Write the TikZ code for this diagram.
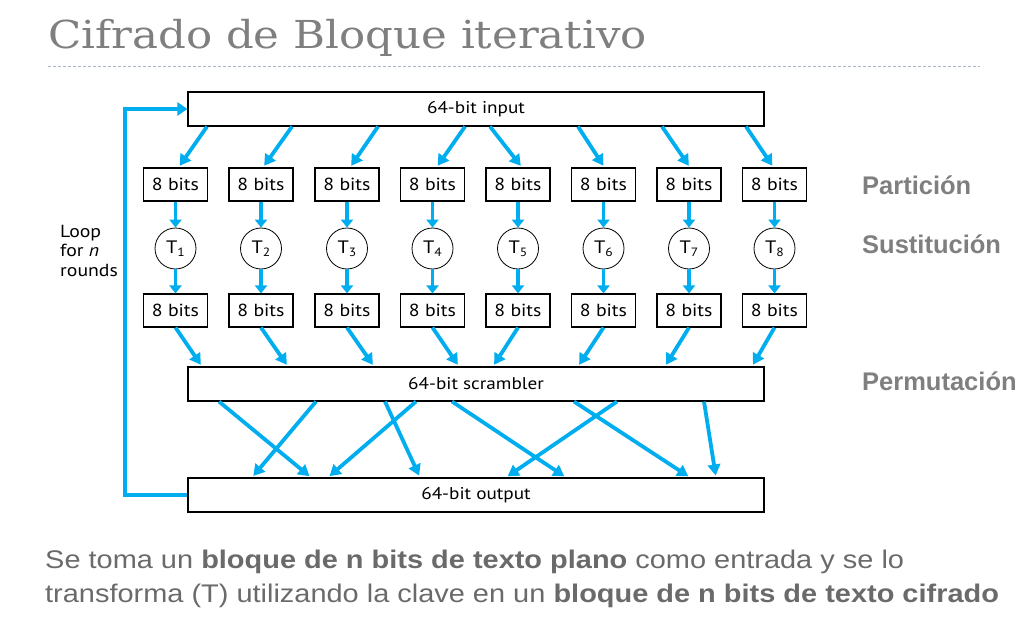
\documentclass[tikz,border=0pt]{standalone}
\usepackage{fontspec}
\usetikzlibrary{arrows.meta,calc}
\newfontfamily\diagfont[FakeStretch=1.13]{PT Sans}
\newfontfamily\arialfont{Liberation Sans}
\newfontfamily\bodyfont[FakeStretch=1.135]{Liberation Sans}
\newfontfamily\titlefont[FakeStretch=1.13]{DejaVu Serif}
\definecolor{arrowblue}{HTML}{00AEEF}
\definecolor{titlegray}{HTML}{7F7F7F}
\definecolor{textgray}{HTML}{6A6A6A}
\definecolor{dashgray}{HTML}{A8B8C8}
\tikzset{
  bigbox/.style={draw=black, line width=1.1pt, fill=white, minimum width=576pt, minimum height=34pt, inner sep=0pt, font=\diagfont\fontsize{17}{19}\selectfont},
  bitbox/.style={draw=black, line width=1.1pt, fill=white, minimum width=64pt, minimum height=33pt, inner sep=0pt, font=\diagfont\fontsize{17.5}{20}\selectfont},
  tcircle/.style={draw=black, line width=0.8pt, circle, minimum size=41pt, inner sep=0pt, font=\diagfont\fontsize{18}{20}\selectfont},
  barrow/.style={draw=arrowblue, line width=3.8pt, -{Triangle[length=11pt,width=12.5pt]}},
  looparrow/.style={draw=arrowblue, line width=4.5pt, -{Triangle[length=10pt,width=13pt]}},
  sidelabel/.style={anchor=base west, inner sep=0pt, text=titlegray, font=\arialfont\bfseries\fontsize{25.5}{28}\selectfont},
  bodytext/.style={anchor=base west, inner sep=0pt, text=textgray, font=\bodyfont\fontsize{25.5}{30}\selectfont},
}
\newcommand{\tsub}[1]{T\raisebox{-0.35ex}{\fontsize{12}{12}\selectfont #1}}
\begin{document}
\begin{tikzpicture}[x=1pt,y=-1pt]
\useasboundingbox (0,0) rectangle (1030,631);
% title
\node[anchor=base west, inner sep=0pt, text=titlegray, font=\titlefont\fontsize{38.5}{42}\selectfont] (title) at (48,49) {Cifrado de Bloque iterativo};
\draw[dashgray, line width=1pt, dash pattern=on 3pt off 2pt] (48,67) -- (980,67);
% big boxes
\node[bigbox] (in) at (476,109) {64-bit input};
\node[bigbox] (scr) at (476,384) {64-bit scrambler};
\node[bigbox] (out) at (476,495) {64-bit output};
% columns
\foreach \i/\x in {1/175.5,2/261,3/347,4/432.5,5/518,6/603.5,7/689,8/774.5}{
  \node[bitbox] (a\i) at (\x,184.5) {8 bits};
  \node[tcircle] (t\i) at (\x,248.5) {\tsub{\i}};
  \node[bitbox] (b\i) at (\x,310.5) {8 bits};
  \draw[barrow, -{Triangle[length=8pt,width=12pt]}] (a\i.south) -- (t\i.north);
  \draw[barrow, -{Triangle[length=8pt,width=12pt]}] (t\i.south) -- (b\i.north);
}
% input to partition
\foreach \s/\i/\e in {-269/1/3,-184/2/2,-98/3/3,-11/4/4,14/5/4,102/6/1,186/7/1,270/8/-1}{
  \draw[barrow, shorten >=2pt] ([xshift=\s pt]in.south) -- ([xshift=\e pt]a\i.north);
}
% lower boxes to scrambler
\foreach \i/\e in {1/-274,2/-188,3/-102,4/-17,5/17,6/102,7/189,8/276}{
  \draw[barrow, shorten >=2pt] (b\i.south) -- ([xshift=\e pt]scr.north);
}
% scrambler to output
\foreach \s/\e in {-257/-165,-160/-224,-91/-56,-60/-148,-24/90,98/214,141/30,228/240}{
  \draw[barrow, shorten >=2pt] ([xshift=\s pt]scr.south) -- ([xshift=\e pt]out.north);
}
% loop
\coordinate (lc) at (125,300);
\draw[looparrow] (out.west) -- (out.west -| lc) -- (in.west -| lc) -- (in.west);
\node[anchor=base west, inner sep=0pt, align=left, font=\diagfont\fontsize{17.5}{19.5}\selectfont] (loop) at (60,276) {Loop\\for \textit{n}\\rounds};
% side labels
\node[sidelabel] (lp) at (862,194) {Partición};
\node[sidelabel] (ls) at (862,253) {Sustitución};
\node[sidelabel] (lpe) at (862,390) {Permutación};
% bottom text
\node[bodytext] (l1) at (45,568) {Se toma un \textbf{bloque de n bits de texto plano} como entrada y se lo};
\node[bodytext] (l2) at (45,602) {transforma (T) utilizando la clave en un \textbf{bloque de n bits de texto cifrado}};
\end{tikzpicture}
\end{document}
